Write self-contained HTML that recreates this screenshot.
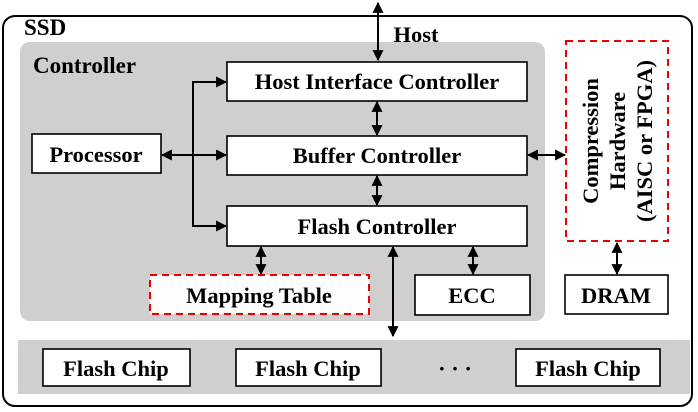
<!DOCTYPE html>
<html><head><style>body{margin:0;background:#fff}svg{display:block}</style></head><body>
<svg width="698" height="412" viewBox="0 0 698 412" xmlns="http://www.w3.org/2000/svg" font-family="Liberation Serif, serif" font-weight="bold">
<defs>
<marker id="a" viewBox="0 0 10 10" refX="9" refY="5" markerWidth="11" markerHeight="11" markerUnits="userSpaceOnUse" orient="auto-start-reverse"><path d="M0,0L10,5L0,10z" fill="#000"/></marker>
</defs>
<rect x="3" y="16" width="689" height="390" rx="12" fill="#fff" stroke="#000" stroke-width="2"/>
<text x="24" y="35" font-size="23">SSD</text>
<rect x="20" y="42" width="525" height="279" rx="10" fill="#d0cece"/>
<text x="33" y="73" font-size="23">Controller</text>
<rect x="18" y="340" width="672" height="54" fill="#d0cece"/>
<g fill="#fff" stroke="#000" stroke-width="1.6">
<rect x="227" y="62" width="300" height="39"/>
<rect x="227" y="136" width="300" height="39"/>
<rect x="227" y="206" width="300" height="40"/>
<rect x="32" y="134" width="129" height="39"/>
<rect x="415" y="275" width="115" height="40"/>
<rect x="565" y="275" width="103" height="39"/>
<rect x="43" y="349" width="147" height="37"/>
<rect x="236" y="349" width="145" height="37"/>
<rect x="516" y="349" width="144" height="37"/>
</g>
<g fill="#fff" stroke="#e00" stroke-width="2" stroke-dasharray="7,5">
<rect x="150" y="275" width="219" height="39"/>
<rect x="566" y="41" width="102" height="200"/>
</g>
<g font-size="22.5" text-anchor="middle">
<text x="377" y="89">Host Interface Controller</text>
<text x="377" y="163">Buffer Controller</text>
<text x="377" y="234">Flash Controller</text>
<text x="96" y="162">Processor</text>
<text x="472" y="303">ECC</text>
<text x="616" y="303">DRAM</text>
<text x="259" y="303">Mapping Table</text>
<text x="116" y="376">Flash Chip</text>
<text x="308" y="376">Flash Chip</text>
<text x="588" y="376">Flash Chip</text>
<text x="455" y="376">· · ·</text>
<text x="416" y="42">Host</text>
<g transform="translate(617,141) rotate(-90)">
<text x="0" y="-19">Compression</text>
<text x="0" y="8">Hardware</text>
<text x="0" y="35">(AISC or FPGA)</text>
</g>
</g>
<g stroke="#000" stroke-width="2" fill="none">
<line x1="378" y1="3" x2="378" y2="60" marker-start="url(#a)" marker-end="url(#a)"/>
<line x1="162" y1="155" x2="226" y2="155" marker-start="url(#a)" marker-end="url(#a)"/>
<polyline points="226,82 193,82 193,226 226,226" marker-start="url(#a)" marker-end="url(#a)"/>
<line x1="377" y1="102" x2="377" y2="135" marker-start="url(#a)" marker-end="url(#a)"/>
<line x1="377" y1="176" x2="377" y2="205" marker-start="url(#a)" marker-end="url(#a)"/>
<line x1="528" y1="155" x2="565" y2="155" marker-start="url(#a)" marker-end="url(#a)"/>
<line x1="261" y1="247" x2="261" y2="274" marker-start="url(#a)" marker-end="url(#a)"/>
<line x1="473" y1="247" x2="473" y2="274" marker-start="url(#a)" marker-end="url(#a)"/>
<line x1="393" y1="247" x2="393" y2="336" marker-start="url(#a)" marker-end="url(#a)"/>
<line x1="617" y1="243" x2="617" y2="274" marker-start="url(#a)" marker-end="url(#a)"/>
</g>
</svg>
</body></html>
